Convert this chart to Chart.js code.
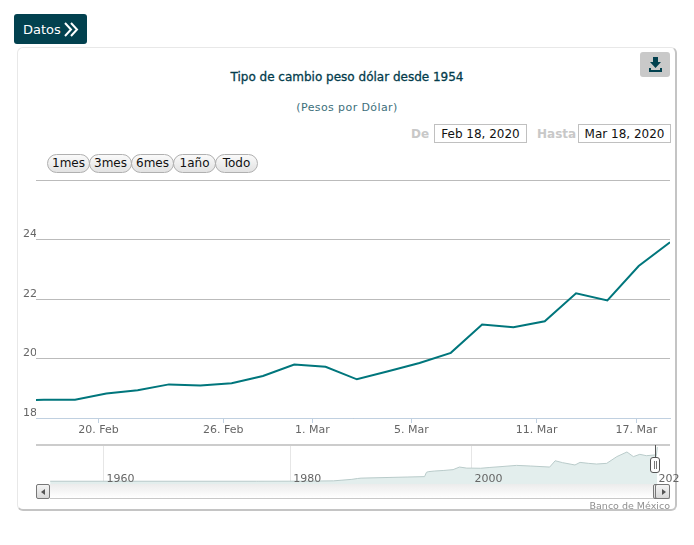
<!DOCTYPE html>
<html>
<head>
<meta charset="utf-8">
<title>Tipo de cambio peso dólar</title>
<script src="https://cdn.jsdelivr.net/npm/chart.js@4"></script>
<style>
  html, body { margin: 0; padding: 0; background: #fff; }
  body { width: 694px; height: 545px; position: relative; overflow: hidden; font-family: "DejaVu Sans", sans-serif; }
  .abs { position: absolute; box-sizing: border-box; }
  canvas { position: absolute; }
  #datos { left: 14px; top: 14px; width: 73px; height: 30px; background: #02414f; border-radius: 3px; color: #fff; font-size: 13px; line-height: 32px; padding-left: 9px; }
  #card { left: 17px; top: 47px; width: 660px; height: 464px; background: #fff; border: 1px solid #e8e8e8; border-right: 2px solid #c4c4c4; border-bottom: 2px solid #c4c4c4; border-radius: 6px; }
  #dl { left: 640px; top: 52px; width: 30px; height: 25px; background: #c9c9c9; border-radius: 3px; }
  #title { left: 17px; width: 660px; top: 70px; text-align: center; font-size: 12px; color: #033c4c; -webkit-text-stroke: 0.3px #033c4c; }
  #sub { left: 17px; width: 660px; top: 101px; text-align: center; font-size: 11px; letter-spacing: 0.4px; color: #3d6f7b; }
  .lab { font-size: 12px; font-weight: bold; color: #c8c8c8; top: 127px; }
  .date { top: 124px; height: 19px; width: 93px; border: 1px solid #c0c0c0; font-size: 12px; line-height: 18px; text-align: center; color: #111; background: #fff; }
  .rng { top: 154px; height: 19px; width: 43px; border: 1px solid #b0b0b0; border-radius: 10px; background: linear-gradient(#fafafa, #e2e2e2); font-size: 12px; line-height: 17px; text-align: center; color: #111; }
  #track { left: 50px; top: 484px; width: 620px; height: 15px; background: linear-gradient(#ececec, #fff); border-bottom: 1px solid #c8c8c8; }
  .btn { top: 484px; height: 15px; border: 1px solid #777; border-radius: 2px; background: linear-gradient(#f4f4f4, #d8d8d8); }
  .tri { width: 0; height: 0; top: 4px; border-top: 3px solid transparent; border-bottom: 3px solid transparent; }
  #handle { left: 650px; top: 457px; width: 10px; height: 16px; border: 1px solid #555; border-radius: 3px; background: #fff; }
  #handle i { position: absolute; top: 3px; width: 1px; height: 8px; background: #777; }
  #stem { left: 655px; top: 445px; width: 1px; height: 12px; background: #555; }
  #credit { right: 24px; top: 500px; font-size: 9.5px; color: #8f8f8f; }
</style>
</head>
<body>
<div id="card" class="abs"></div>
<div id="datos" class="abs">Datos
  <svg style="position:absolute;left:50px;top:8px" width="15" height="15" viewBox="0 0 15 15" fill="none" stroke="#fff" stroke-width="2"><path d="M1 1l6 6.5-6 6.5M7 1l6 6.5-6 6.5"/></svg>
</div>
<div id="dl" class="abs">
  <svg style="position:absolute;left:9px;top:5px" width="13" height="15" viewBox="0 0 13 15" fill="#02414f"><path d="M4 0h5v5h3l-5.5 6L1 5h3z"/><path d="M0 11h2v2h9v-2h2v4H0z"/></svg>
</div>
<div id="title" class="abs">Tipo de cambio peso dólar desde 1954</div>
<div id="sub" class="abs">(Pesos por Dólar)</div>
<div class="abs lab" style="left:411px">De</div>
<div class="abs date" style="left:434px">Feb 18, 2020</div>
<div class="abs lab" style="left:537px">Hasta</div>
<div class="abs date" style="left:578px">Mar 18, 2020</div>
<div class="abs rng" style="left:47px">1mes</div>
<div class="abs rng" style="left:89px">3mes</div>
<div class="abs rng" style="left:131px">6mes</div>
<div class="abs rng" style="left:173px">1año</div>
<div class="abs rng" style="left:215px">Todo</div>

<canvas id="main" width="694" height="270" style="left:0;top:170px"></canvas>
<canvas id="nav" width="680" height="60" style="left:0;top:440px"></canvas>

<div id="track" class="abs"></div>
<div class="abs btn" style="left:36px;width:14px"><div class="abs tri" style="left:4px;border-right:4px solid #555"></div></div>
<div class="abs btn" style="left:653px;width:6px"></div>
<div class="abs btn" style="left:655px;width:15px"><div class="abs tri" style="left:6px;border-left:4px solid #555"></div></div>
<div id="stem" class="abs"></div>
<div id="handle" class="abs"><i style="left:3px"></i><i style="left:5px"></i></div>
<div id="credit" class="abs">Banco de México</div>

<script>
'use strict'

// sesiones del 17 feb al 18 mar 2020
const sessions = ['17 Feb', '18 Feb', '19 Feb', '20 Feb', '21 Feb', '24 Feb', '25 Feb', '26 Feb', '27 Feb', '28 Feb',
  '2 Mar', '3 Mar', '4 Mar', '5 Mar', '6 Mar', '9 Mar', '10 Mar', '11 Mar', '12 Mar', '13 Mar', '17 Mar', '18 Mar']
const rates = [18.60, 18.61, 18.61, 18.82, 18.93, 19.13, 19.09, 19.17, 19.41, 19.80,
  19.72, 19.30, 19.57, 19.85, 20.19, 21.14, 21.05, 21.25, 22.19, 21.95, 23.11, 23.91]

// posiciones de las marcas del eje, en unidades de sesion
const xTickPositions = [2.75, 6.73, 9.58, 12.74, 16.74, 19.93]
const xTickLabels = ['20. Feb', '26. Feb', '1. Mar', '5. Mar', '11. Mar', '17. Mar']
const yTicks = [18, 20, 22, 24, 26]
const yTickLabels = ['18', '20', '22', '24', '']

// serie completa del navegador
const navYears = [1954.2, 1976.6, 1976.8, 1982, 1983, 1985, 1987, 1987.6, 1988, 1993, 1994.9, 1995.1, 1995.3, 1996, 1997, 1998, 1998.7, 1999.5,
  2000, 2001, 2002, 2003.1, 2004.9, 2006.4, 2008.5, 2009.1, 2009.9, 2011.25, 2011.8, 2012.7, 2013.6, 2014.7, 2015.8,
  2016.9, 2017.6, 2018.3, 2019, 2019.9, 2020.1, 2020.2]
const navRates = [0.01, 0.01, 0.02, 0.06, 0.15, 0.3, 1.4, 2.0, 2.3, 3.1, 3.4, 6.5, 7.0, 7.5, 7.9, 8.5, 10.4, 9.6,
  9.6, 9.5, 10.1, 10.65, 11.6, 11.15, 10.4, 15, 13.6, 11.9, 13.8, 13.1, 12.6, 13.1, 18,
  21.4, 18, 19.7, 18.7, 19.2, 18.8, 25]
const navTickPositions = [1960, 1980.3, 2000, 2020]
const navTickLabels = ['1960', '1980', '2000', '2020']

const labelFont = { family: '"DejaVu Sans", sans-serif', size: 11 }

new Chart(document.getElementById('main'), {
  type: 'line',
  data: {
    labels: sessions,
    datasets: [{
      data: rates.map((r, i) => ({ x: i, y: r })),
      borderColor: '#00767c',
      borderWidth: 2,
      pointRadius: 0,
      tension: 0
    }]
  },
  options: {
    responsive: false,
    animation: false,
    layout: { padding: { top: 10, right: 24, left: 0, bottom: 0 } },
    plugins: { legend: { display: false }, tooltip: { enabled: false } },
    scales: {
      x: {
        type: 'linear',
        min: 0.753,
        max: 21,
        afterBuildTicks: s => { s.ticks = xTickPositions.map(v => ({ value: v })) },
        afterFit: s => { s.height = 22 },
        ticks: {
          autoSkip: false,
          maxRotation: 0,
          padding: 1,
          color: '#666',
          font: labelFont,
          callback: (v, i) => xTickLabels[i]
        },
        grid: { drawOnChartArea: false, tickLength: 5, color: '#c0d0e0' },
        border: { color: '#c0d0e0' }
      },
      y: {
        min: 18,
        max: 26,
        afterBuildTicks: s => { s.ticks = yTicks.map(v => ({ value: v })) },
        afterFit: s => { s.width = 36 },
        ticks: {
          padding: -1,
          labelOffset: -5,
          color: '#666',
          font: labelFont,
          callback: (v, i) => yTickLabels[i]
        },
        grid: { color: '#bbb', tickLength: 0 },
        border: { display: false }
      }
    }
  }
})

new Chart(document.getElementById('nav'), {
  type: 'line',
  data: {
    datasets: [{
      data: navYears.map((yr, i) => ({ x: yr, y: navRates[i] })),
      borderColor: '#b9cbca',
      borderWidth: 1,
      backgroundColor: '#e3eeed',
      fill: 'start',
      pointRadius: 0,
      tension: 0
    }]
  },
  options: {
    responsive: false,
    animation: false,
    layout: { padding: { top: 5, right: 10, left: 36, bottom: 0 } },
    plugins: { legend: { display: false }, tooltip: { enabled: false } },
    scales: {
      x: {
        type: 'linear',
        min: 1952.66,
        max: 2021.58,
        afterBuildTicks: s => { s.ticks = navTickPositions.map(v => ({ value: v })) },
        afterFit: s => { s.height = 16 },
        ticks: {
          autoSkip: false,
          maxRotation: 0,
          mirror: true, // si no, chart.js recorta las etiquetas a la caja del eje
          padding: -2,
          labelOffset: 17,
          z: 1,
          color: '#666',
          font: labelFont,
          callback: (v, i) => navTickLabels[i]
        },
        grid: { color: '#e6e6e6', tickLength: 0 },
        border: { display: false }
      },
      y: {
        display: false,
        min: -2,
        max: 26.5
      }
    }
  },
  plugins: [{
    id: 'navTopLine',
    afterDraw (c) {
      const g = c.ctx
      g.save()
      g.strokeStyle = '#ccc'
      g.lineWidth = 2
      g.beginPath()
      g.moveTo(c.chartArea.left, c.chartArea.top)
      g.lineTo(c.chartArea.right, c.chartArea.top)
      g.stroke()
      g.restore()
    }
  }]
})
</script>
</body>
</html>
